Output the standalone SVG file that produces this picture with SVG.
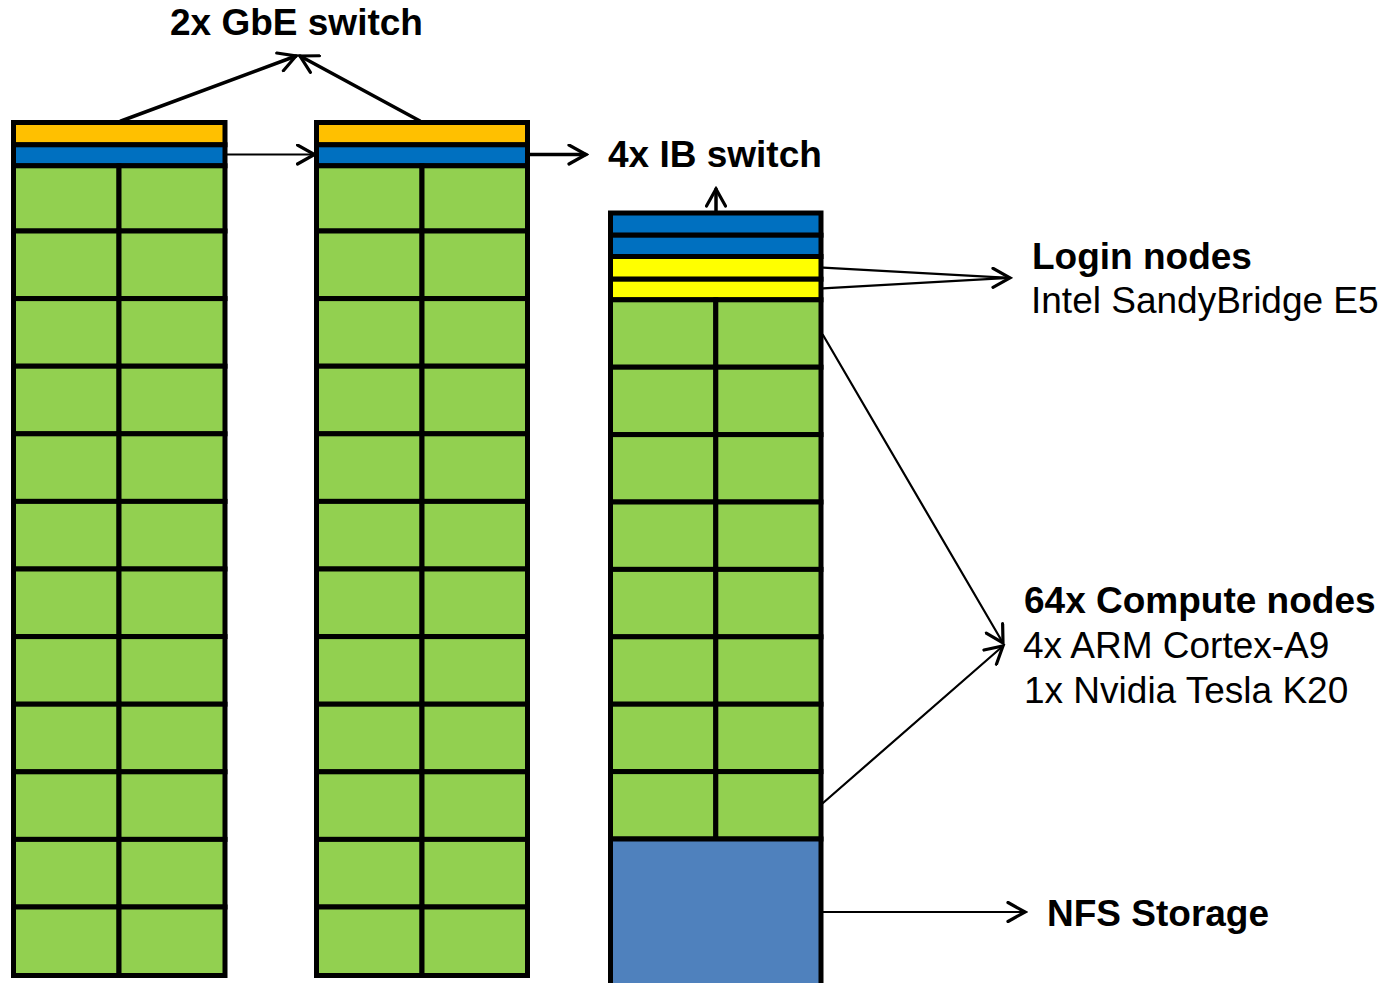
<svg xmlns="http://www.w3.org/2000/svg" width="1386" height="983" viewBox="0 0 1386 983">
  <style>
    .cell { stroke: #000; stroke-width: 5; stroke-linejoin: miter; }
    .gbe { fill: #FFC000; }
    .ib { fill: #0070C0; }
    .login { fill: #FFFF00; }
    .comp { fill: #92D050; }
    .nfs { fill: #4F81BD; }
    .wire { fill: none; stroke: #000; stroke-linecap: round; }
    .thick { stroke-width: 3.5; }
    .thin { stroke-width: 2.2; }
    .lbl { font-family: "Liberation Sans", Arial, sans-serif; font-size: 37px; fill: #000; }
    .b { font-weight: bold; }
  </style>
  <defs>
    <marker id="open-arrow" viewBox="0 0 22 22" markerWidth="22" markerHeight="22" refX="19" refY="11" orient="auto" markerUnits="userSpaceOnUse">
      <path d="M2,1.5 L19,11 L2,20.5" fill="none" stroke="#000" stroke-width="3.2" stroke-linecap="round" stroke-linejoin="miter"/>
    </marker>
    <!-- one rack row: two compute blades side by side -->
  </defs>
  <rect width="1386" height="983" fill="#fff"/>

  <!-- rack 1 -->
  <g id="rack1">
    <rect class="cell gbe" x="13.5" y="122.5" width="211.5" height="22.3"/>
    <rect class="cell ib" x="13.5" y="144.8" width="211.5" height="21"/>
    <g class="comp">
      <rect class="cell comp" x="13.5" y="165.8" width="105.5" height="65.2"/><rect class="cell comp" x="119" y="165.8" width="106" height="65.2"/>
      <rect class="cell comp" x="13.5" y="231" width="105.5" height="67.6"/><rect class="cell comp" x="119" y="231" width="106" height="67.6"/>
      <rect class="cell comp" x="13.5" y="298.6" width="105.5" height="67.6"/><rect class="cell comp" x="119" y="298.6" width="106" height="67.6"/>
      <rect class="cell comp" x="13.5" y="366.2" width="105.5" height="67.6"/><rect class="cell comp" x="119" y="366.2" width="106" height="67.6"/>
      <rect class="cell comp" x="13.5" y="433.8" width="105.5" height="67.6"/><rect class="cell comp" x="119" y="433.8" width="106" height="67.6"/>
      <rect class="cell comp" x="13.5" y="501.4" width="105.5" height="67.6"/><rect class="cell comp" x="119" y="501.4" width="106" height="67.6"/>
      <rect class="cell comp" x="13.5" y="569" width="105.5" height="67.6"/><rect class="cell comp" x="119" y="569" width="106" height="67.6"/>
      <rect class="cell comp" x="13.5" y="636.6" width="105.5" height="67.6"/><rect class="cell comp" x="119" y="636.6" width="106" height="67.6"/>
      <rect class="cell comp" x="13.5" y="704.2" width="105.5" height="67.6"/><rect class="cell comp" x="119" y="704.2" width="106" height="67.6"/>
      <rect class="cell comp" x="13.5" y="771.8" width="105.5" height="67.6"/><rect class="cell comp" x="119" y="771.8" width="106" height="67.6"/>
      <rect class="cell comp" x="13.5" y="839.4" width="105.5" height="67.6"/><rect class="cell comp" x="119" y="839.4" width="106" height="67.6"/>
      <rect class="cell comp" x="13.5" y="907" width="105.5" height="68.5"/><rect class="cell comp" x="119" y="907" width="106" height="68.5"/>
    </g>
  </g>

  <!-- rack 2 -->
  <g id="rack2">
    <rect class="cell gbe" x="316.5" y="122.5" width="211" height="22.3"/>
    <rect class="cell ib" x="316.5" y="144.8" width="211" height="21"/>
    <g>
      <rect class="cell comp" x="316.5" y="165.8" width="105.5" height="65.2"/><rect class="cell comp" x="422" y="165.8" width="105.5" height="65.2"/>
      <rect class="cell comp" x="316.5" y="231" width="105.5" height="67.6"/><rect class="cell comp" x="422" y="231" width="105.5" height="67.6"/>
      <rect class="cell comp" x="316.5" y="298.6" width="105.5" height="67.6"/><rect class="cell comp" x="422" y="298.6" width="105.5" height="67.6"/>
      <rect class="cell comp" x="316.5" y="366.2" width="105.5" height="67.6"/><rect class="cell comp" x="422" y="366.2" width="105.5" height="67.6"/>
      <rect class="cell comp" x="316.5" y="433.8" width="105.5" height="67.6"/><rect class="cell comp" x="422" y="433.8" width="105.5" height="67.6"/>
      <rect class="cell comp" x="316.5" y="501.4" width="105.5" height="67.6"/><rect class="cell comp" x="422" y="501.4" width="105.5" height="67.6"/>
      <rect class="cell comp" x="316.5" y="569" width="105.5" height="67.6"/><rect class="cell comp" x="422" y="569" width="105.5" height="67.6"/>
      <rect class="cell comp" x="316.5" y="636.6" width="105.5" height="67.6"/><rect class="cell comp" x="422" y="636.6" width="105.5" height="67.6"/>
      <rect class="cell comp" x="316.5" y="704.2" width="105.5" height="67.6"/><rect class="cell comp" x="422" y="704.2" width="105.5" height="67.6"/>
      <rect class="cell comp" x="316.5" y="771.8" width="105.5" height="67.6"/><rect class="cell comp" x="422" y="771.8" width="105.5" height="67.6"/>
      <rect class="cell comp" x="316.5" y="839.4" width="105.5" height="67.6"/><rect class="cell comp" x="422" y="839.4" width="105.5" height="67.6"/>
      <rect class="cell comp" x="316.5" y="907" width="105.5" height="68.5"/><rect class="cell comp" x="422" y="907" width="105.5" height="68.5"/>
    </g>
  </g>

  <!-- rack 3: IB switches, login nodes, compute nodes, storage -->
  <g id="rack3">
    <rect class="cell ib" x="610.5" y="213" width="210.5" height="22.2"/>
    <rect class="cell ib" x="610.5" y="235.2" width="210.5" height="21.3"/>
    <rect class="cell login" x="610.5" y="256.5" width="210.5" height="22.7"/>
    <rect class="cell login" x="610.5" y="279.2" width="210.5" height="20.6"/>
    <g>
      <rect class="cell comp" x="610.5" y="299.8" width="105.3" height="67.4"/><rect class="cell comp" x="715.8" y="299.8" width="105.2" height="67.4"/>
      <rect class="cell comp" x="610.5" y="367.2" width="105.3" height="67.4"/><rect class="cell comp" x="715.8" y="367.2" width="105.2" height="67.4"/>
      <rect class="cell comp" x="610.5" y="434.6" width="105.3" height="67.4"/><rect class="cell comp" x="715.8" y="434.6" width="105.2" height="67.4"/>
      <rect class="cell comp" x="610.5" y="502" width="105.3" height="67.4"/><rect class="cell comp" x="715.8" y="502" width="105.2" height="67.4"/>
      <rect class="cell comp" x="610.5" y="569.4" width="105.3" height="67.4"/><rect class="cell comp" x="715.8" y="569.4" width="105.2" height="67.4"/>
      <rect class="cell comp" x="610.5" y="636.8" width="105.3" height="67.4"/><rect class="cell comp" x="715.8" y="636.8" width="105.2" height="67.4"/>
      <rect class="cell comp" x="610.5" y="704.2" width="105.3" height="67.4"/><rect class="cell comp" x="715.8" y="704.2" width="105.2" height="67.4"/>
      <rect class="cell comp" x="610.5" y="771.6" width="105.3" height="67.4"/><rect class="cell comp" x="715.8" y="771.6" width="105.2" height="67.4"/>
    </g>
    <rect class="cell nfs" x="610.5" y="839" width="210.5" height="160"/>
  </g>

  <!-- connectors -->
  <g id="connectors">
    <line class="wire thick" x1="121" y1="121" x2="296" y2="56" marker-end="url(#open-arrow)"/>
    <line class="wire thick" x1="420" y1="121" x2="300" y2="56" marker-end="url(#open-arrow)"/>
    <line class="wire thin" x1="227" y1="154.5" x2="314.5" y2="154.5" marker-end="url(#open-arrow)"/>
    <line class="wire thick" x1="530" y1="154.5" x2="586" y2="154.5" marker-end="url(#open-arrow)"/>
    <line class="wire thick" x1="716" y1="211" x2="716" y2="189" marker-end="url(#open-arrow)"/>
    <line class="wire thin" x1="823" y1="267.7" x2="1009" y2="277.8"/>
    <line class="wire thin" x1="823" y1="288.3" x2="1009" y2="277.8"/>
    <line class="wire thin" x1="995" y1="277.8" x2="1010" y2="277.8" marker-end="url(#open-arrow)"/>
    <line class="wire thin" x1="823" y1="335" x2="1003" y2="643" marker-end="url(#open-arrow)"/>
    <line class="wire thin" x1="823" y1="803" x2="1003" y2="646" marker-end="url(#open-arrow)"/>
    <line class="wire thin" x1="823" y1="912" x2="1025" y2="912" marker-end="url(#open-arrow)"/>
  </g>

  <!-- labels -->
  <g id="labels">
    <text class="lbl b" x="170" y="35">2x GbE switch</text>
    <text class="lbl b" x="608" y="167">4x IB switch</text>
    <text class="lbl b" x="1032" y="269">Login nodes</text>
    <text class="lbl" x="1031" y="313">Intel SandyBridge E5</text>
    <text class="lbl b" x="1024" y="613">64x Compute nodes</text>
    <text class="lbl" x="1023" y="658">4x ARM Cortex-A9</text>
    <text class="lbl" x="1024" y="703">1x Nvidia Tesla K20</text>
    <text class="lbl b" x="1047" y="926">NFS Storage</text>
  </g>
</svg>
